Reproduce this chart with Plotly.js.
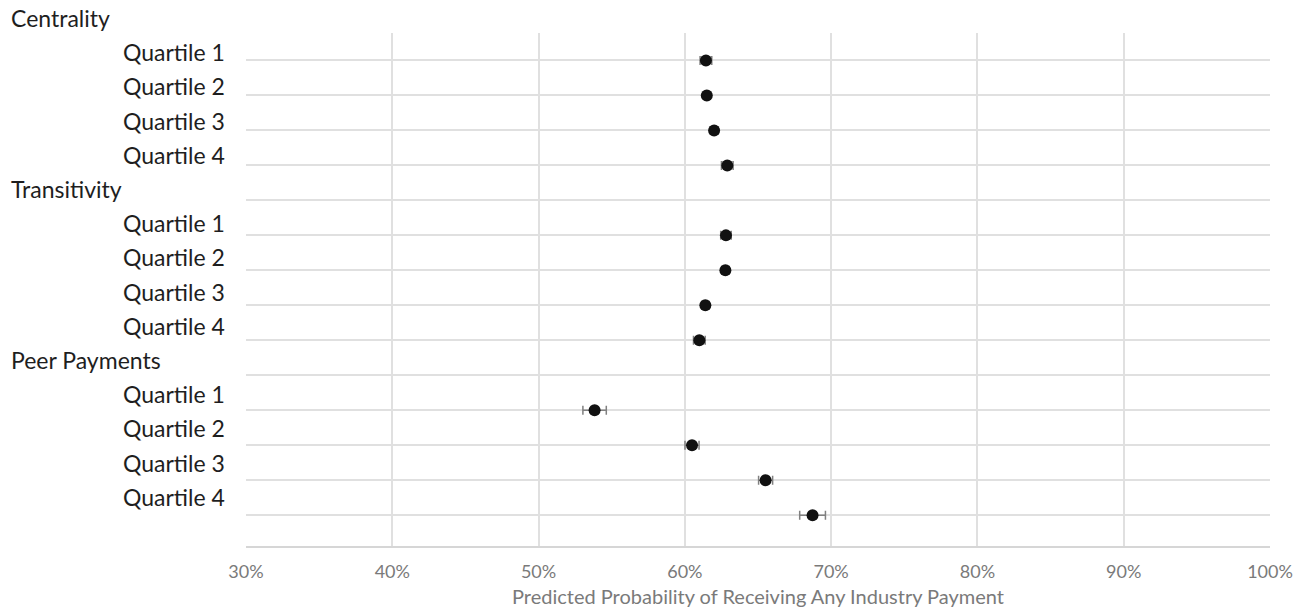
<!DOCTYPE html>
<html>
<head>
<meta charset="utf-8">
<script src="https://cdn.plot.ly/plotly-3.0.1.min.js"></script>
<style>
  html, body { margin: 0; padding: 0; background: #ffffff; }
  #chart { width: 1305px; height: 613px; }
</style>
</head>
<body>
<div id="chart"></div>
<script>
// ---- Data ----
const rowLabels = [
  "Centrality", "Quartile 1", "Quartile 2", "Quartile 3", "Quartile 4",
  "Transitivity", "Quartile 1", "Quartile 2", "Quartile 3", "Quartile 4",
  "Peer Payments", "Quartile 1", "Quartile 2", "Quartile 3", "Quartile 4"
];
const isHeader = [true, false, false, false, false,
                  true, false, false, false, false,
                  true, false, false, false, false];

// Row index for each estimate (within rowLabels)
const pointRows = [1, 2, 3, 4, 6, 7, 8, 9, 11, 12, 13, 14];
// Predicted probability (%)
const probValues = [61.44, 61.5, 62.0, 62.9, 62.81, 62.77, 61.4, 60.99, 53.83, 60.49, 65.52, 68.73];
// Half-width of 95% CI (%)
const ciHalf = [0.4, 0.2, 0.25, 0.4, 0.36, 0.25, 0.25, 0.4, 0.8, 0.48, 0.48, 0.88];

const xTicks = [30, 40, 50, 60, 70, 80, 90, 100];
const xTitle = "Predicted Probability of Receiving Any Industry Payment";

// ---- Chart ----
const FONT = "Lato, 'Open Sans', sans-serif";
const rowIdx = rowLabels.map((_, i) => i);
const PLOT_TOP = 33, PLOT_BOTTOM = 547;

const trace = {
  type: "scatter",
  mode: "markers",
  x: probValues,
  y: pointRows,
  marker: { color: "#111111", size: 12 },
  error_x: { type: "data", array: ciHalf, visible: true, color: "#808080", thickness: 1.5, width: 4.5 },
  hoverinfo: "x+y",
  showlegend: false,
  cliponaxis: false
};

// label centres are laid out slightly tighter than the data rows
const annotations = rowLabels.map((t, i) => {
  const px = 18 + 34.2 * i;
  return {
    text: t,
    xref: "paper",
    yref: "paper",
    x: isHeader[i] ? -0.2314 : 0,
    xanchor: isHeader[i] ? "left" : "right",
    xshift: isHeader[i] ? 0 : -19,
    y: (PLOT_BOTTOM - px) / (PLOT_BOTTOM - PLOT_TOP),
    yanchor: "middle",
    showarrow: false,
    font: { family: FONT, size: 23, color: "#1e1e1e" }
  };
});

const layout = {
  width: 1305,
  height: 613,
  margin: { l: 246, r: 35, t: PLOT_TOP, b: 613 - PLOT_BOTTOM },
  paper_bgcolor: "#ffffff",
  plot_bgcolor: "#ffffff",
  font: { family: FONT },
  xaxis: {
    range: [30, 100],
    tickvals: xTicks,
    ticktext: xTicks.map(v => v + "%"),
    showgrid: true,
    gridcolor: "#e0e0e0",
    gridwidth: 2,
    zeroline: false,
    showline: false,
    ticks: "",
    ticklabelstandoff: 12,
    tickfont: { family: FONT, size: 18, color: "#7a7a7a" },
    title: { text: xTitle, font: { family: FONT, size: 20, color: "#7a7a7a" }, standoff: 8 },
    fixedrange: true
  },
  yaxis: {
    range: [14.91, 0.214],
    tickvals: rowIdx,
    showticklabels: false,
    showgrid: true,
    gridcolor: "#e0e0e0",
    gridwidth: 2,
    zeroline: false,
    showline: false,
    ticks: "",
    fixedrange: true
  },
  shapes: [{
    type: "line", xref: "paper", yref: "paper",
    x0: 0, x1: 1, y0: 0, y1: 0,
    line: { color: "#d6d6d6", width: 2 }
  }],
  annotations: annotations
};

Plotly.newPlot("chart", [trace], layout, { displayModeBar: false, staticPlot: true });
</script>
</body>
</html>
